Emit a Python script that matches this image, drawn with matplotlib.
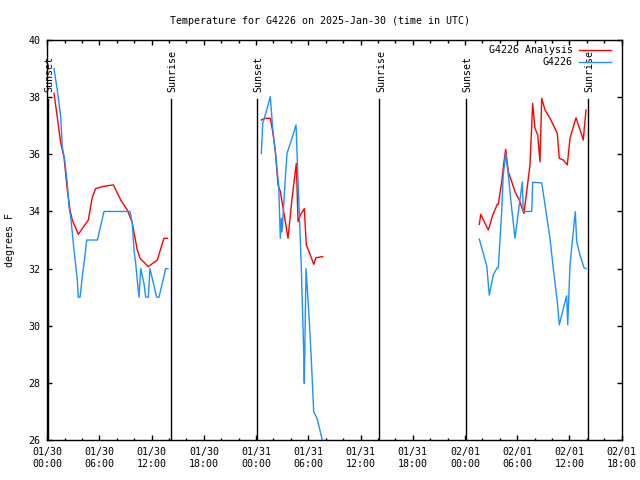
import datetime as dt
import numpy as np
import matplotlib
matplotlib.use("Agg")
import matplotlib.pyplot as plt
import matplotlib.dates as mdates

plt.rcParams["font.family"] = ["DejaVu Sans Mono"]
FS = 7.2

start = dt.datetime(2025, 1, 30)

# hours after 01/30 00:00 UTC, degrees F -- three observation stretches
obs_hours = [
    [0.77, 1.15, 1.54, 1.72, 2.0, 2.3, 2.49, 2.69, 3.07, 3.45, 3.56, 3.76, 4.02, 4.41, 4.53,
     5.75, 6.52, 9.51, 9.77, 9.97, 10.16, 10.34, 10.54, 10.74, 11.11, 11.31, 11.61, 11.8,
     12.57, 12.84, 13.61, 13.87],
    [24.6, 24.76, 25.06, 25.63, 25.91, 26.21, 26.6, 26.78, 26.9, 26.98, 27.36, 27.55, 28.13,
     28.59, 28.7, 28.9, 29.2, 29.47, 29.54, 29.74, 30.05, 30.34, 30.62, 31.0, 31.66],
    [49.66, 50.51, 50.8, 51.26, 51.72, 51.84, 52.23, 52.41, 52.69, 52.99, 53.38, 53.76, 54.25,
     54.6, 54.71, 55.68, 55.79, 56.83, 57.78, 58.16, 58.62, 58.85, 59.31, 59.7, 59.82, 60.08,
     60.69, 60.85, 61.23, 61.69, 61.92],
]
obs_temp = [
    [39.0, 38.25, 37.32, 36.27, 35.8, 34.98, 34.17, 33.82, 32.65, 31.6, 31.0, 31.0, 31.7, 32.65,
     33.0, 33.0, 34.0, 34.0, 33.58, 32.65, 32.18, 31.6, 31.0, 32.0, 31.48, 31.0, 31.0, 32.0,
     31.0, 31.0, 32.0, 32.0],
    [36.03, 37.08, 37.38, 38.02, 36.9, 36.1, 34.9, 33.06, 33.76, 33.29, 35.16, 36.03, 36.56,
     37.03, 36.1, 34.46, 32.0, 29.1, 27.98, 32.0, 30.5, 28.86, 26.99, 26.76, 25.94],
    [33.03, 32.1, 31.07, 31.78, 32.03, 32.03, 33.99, 35.28, 36.03, 35.28, 34.1, 33.06, 34.23,
     35.04, 33.99, 34.0, 35.02, 35.0, 33.06, 32.0, 30.84, 30.03, 30.6, 31.05, 30.03, 32.12,
     33.99, 32.94, 32.47, 32.03, 32.0],
]

ana_hours = [
    [0.77, 1.15, 1.54, 1.92, 2.3, 2.61, 2.87, 3.56, 4.71, 5.17, 5.56, 6.32, 7.59, 8.44, 9.2,
     9.77, 10.34, 10.66, 11.61, 12.64, 13.41, 13.79],
    [24.6, 25.06, 25.63, 25.91, 26.21, 26.52, 26.78, 27.17, 27.67, 28.13, 28.62, 28.82, 29.08,
     29.54, 29.77, 30.23, 30.62, 30.89, 31.66],
    [49.66, 49.82, 50.69, 51.2, 51.72, 51.84, 52.23, 52.49, 52.69, 52.99, 53.38, 53.76, 54.25,
     54.79, 55.1, 55.48, 55.79, 56.05, 56.37, 56.63, 56.83, 57.21, 57.78, 58.36, 58.62, 58.85,
     59.31, 59.77, 60.08, 60.77, 61.43, 61.61, 61.72, 61.92],
]
ana_temp = [
    [38.13, 37.3, 36.4, 35.9, 34.75, 34.05, 33.7, 33.2, 33.7, 34.5, 34.8, 34.87, 34.93, 34.4,
     34.05, 33.6, 32.65, 32.36, 32.07, 32.3, 33.06, 33.06],
    [37.2, 37.26, 37.26, 36.8, 36.1, 34.93, 34.7, 33.99, 33.06, 34.46, 35.68, 33.64, 33.87,
     34.1, 32.83, 32.48, 32.15, 32.38, 32.42],
    [33.55, 33.9, 33.35, 33.87, 34.25, 34.25, 35.04, 35.74, 36.18, 35.39, 35.04, 34.69, 34.4,
     33.93, 34.69, 35.63, 37.78, 36.91, 36.68, 35.74, 37.96, 37.55, 37.26, 36.9, 36.73, 35.86,
     35.8, 35.63, 36.56, 37.28, 36.68, 36.5, 36.9, 37.55],
]

sunset_hours = [0.1, 24.13, 48.17]
sunrise_hours = [14.2, 38.18, 62.1]


def join(hours, temps):
    t, v = [], []
    for h, y in zip(hours, temps):
        t += [start + dt.timedelta(hours=x) for x in h] + [None]
        v += list(y) + [np.nan]
    t = [x if x is not None else t[i - 1] for i, x in enumerate(t)]
    return t, v


fig = plt.figure(figsize=(6.4, 4.8), dpi=100)
ax = fig.add_axes([0.0739, 0.0833, 0.8972, 0.8333])

t, v = join(ana_hours, ana_temp)
ax.plot(t, v, color="red", lw=1.0, label="G4226 Analysis")
t, v = join(obs_hours, obs_temp)
ax.plot(t, v, color="#1e90ff", lw=1.0, label="G4226")

for name, hrs in [("Sunset", sunset_hours), ("Sunrise", sunrise_hours)]:
    for h in hrs:
        when = start + dt.timedelta(hours=h)
        ax.axvline(when, ymin=0, ymax=0.853, color="black", lw=1.0)
        ax.text(when + dt.timedelta(minutes=10), 0.869, name,
                transform=ax.get_xaxis_transform(), rotation=90,
                ha="center", va="bottom", fontsize=FS)

ax.set_xlim(start, start + dt.timedelta(hours=66))
ax.set_ylim(26, 40)
ax.set_yticks(np.arange(26, 41, 2))
ax.xaxis.set_major_locator(mdates.HourLocator(byhour=range(0, 24, 6)))
ax.xaxis.set_minor_locator(mdates.HourLocator(byhour=range(0, 24, 2)))
ax.xaxis.set_major_formatter(mdates.DateFormatter("%m/%d\n%H:%M"))
ax.tick_params(which="both", direction="in", top=True, right=True, labelsize=FS, width=1)
ax.tick_params(which="major", length=3.5, pad=5)
ax.tick_params(which="minor", length=1.8)
for s in ax.spines.values():
    s.set_linewidth(1.0)

ax.set_ylabel("degrees F", fontsize=FS)
ax.yaxis.set_label_coords(-0.057, 0.5)
fig.text(0.5, 1 - 21 / 480, "Temperature for G4226 on 2025-Jan-30 (time in UTC)",
         ha="center", va="center", fontsize=FS)
ax.legend(loc="upper right", markerfirst=False, frameon=False, fontsize=FS,
          handlelength=3.2, handletextpad=0.6, labelspacing=0.2,
          borderaxespad=0.1, bbox_to_anchor=(0.99, 1.0))

fig.savefig("out.png", dpi=100)
